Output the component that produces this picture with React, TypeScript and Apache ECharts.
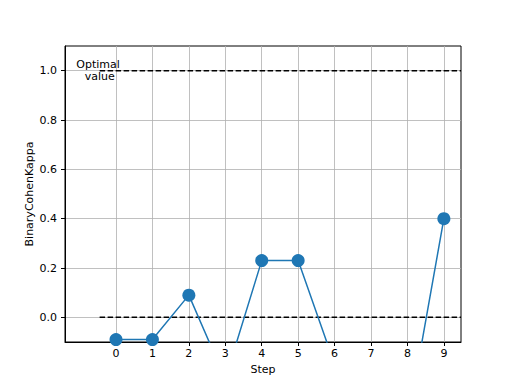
import React, { useEffect, useRef } from "react";
import * as echarts from "echarts";

const steps = [0, 1, 2, 3, 4, 5, 6, 7, 8, 9];
const kappa = [-0.09, -0.09, 0.09, -0.25, 0.23, 0.23, -0.19, -0.3, -0.43, 0.4];
const xTicks = [0, 1, 2, 3, 4, 5, 6, 7, 8, 9];
const yTicks = [0, 0.2, 0.4, 0.6, 0.8, 1.0];
const optimalLevel = 1.0;
const baselineLevel = 0.0;
const refLineStart = -0.45;
const xMin = -1.4;
const xMax = 9.47;
const yMin = -0.1;
const yMax = 1.1;

export default function App() {
  const ref = useRef<HTMLDivElement>(null);
  useEffect(() => {
    if (!ref.current) return;
    const chart = echarts.init(ref.current, undefined, { renderer: "svg" });
    const font = "DejaVu Sans";
    chart.setOption({
      animation: false,
      backgroundColor: "#fff",
      textStyle: { fontFamily: font },
      grid: {
        left: 65,
        top: 46,
        right: 51,
        bottom: 42,
        show: true,
        borderColor: "#000",
        borderWidth: 1,
        backgroundColor: "transparent",
      },
      xAxis: {
        type: "value",
        min: xMin,
        max: xMax,
        name: "Step",
        nameLocation: "middle",
        nameGap: 22,
        nameMoveOverlap: false,
        nameTextStyle: { color: "#000", fontSize: 11, fontFamily: font },
        axisLine: { show: true, onZero: false, lineStyle: { color: "#000", width: 1 } },
        axisTick: { show: true, inside: false, length: 4, customValues: xTicks, lineStyle: { color: "#000" } },
        axisLabel: {
          customValues: xTicks,
          color: "#000",
          fontSize: 11,
          fontFamily: font,
          margin: 6,
          formatter: (v: number) => String(v),
        },
        splitLine: { show: true, lineStyle: { color: "#b0b0b0", width: 0.8 } },
      },
      yAxis: {
        type: "value",
        min: yMin,
        max: yMax,
        name: "BinaryCohenKappa",
        nameLocation: "middle",
        nameGap: 30,
        nameMoveOverlap: false,
        nameRotate: 90,
        nameTextStyle: { color: "#000", fontSize: 11, fontFamily: font },
        axisLine: { show: true, onZero: false, lineStyle: { color: "#000", width: 1 } },
        axisTick: { show: true, inside: false, length: 4, customValues: yTicks, lineStyle: { color: "#000" } },
        axisLabel: {
          customValues: yTicks,
          color: "#000",
          fontSize: 11,
          fontFamily: font,
          margin: 8,
          formatter: (v: number) => v.toFixed(1),
        },
        splitLine: { show: true, lineStyle: { color: "#b0b0b0", width: 0.8 } },
      },
      graphic: [
        {
          type: "text",
          x: 98,
          y: 58,
          style: {
            text: "Optimal\n value",
            fill: "#000",
            font: `11px "${font}"`,
            align: "center",
            lineHeight: 12,
          },
          z: 10,
        },
      ],
      series: [
        {
          type: "line",
          data: [
            [refLineStart, optimalLevel],
            [xMax, optimalLevel],
          ],
          symbol: "none",
          lineStyle: { color: "#000", width: 1.5, type: [5.5, 2.5] },
          silent: true,
          z: 3,
        },
        {
          type: "line",
          data: [
            [refLineStart, baselineLevel],
            [xMax, baselineLevel],
          ],
          symbol: "none",
          lineStyle: { color: "#000", width: 1.5, type: [5.5, 2.5] },
          silent: true,
          z: 3,
        },
        {
          type: "line",
          data: steps.map((s, i) => [s, kappa[i]]),
          symbol: "circle",
          symbolSize: 13,
          clip: true,
          itemStyle: { color: "#1f77b4" },
          lineStyle: { color: "#1f77b4", width: 1.5 },
          z: 4,
        },
      ],
    });
    return () => chart.dispose();
  }, []);
  return <div ref={ref} style={{ width: 512, height: 384, position: "absolute", left: 0, top: 0 }} />;
}
